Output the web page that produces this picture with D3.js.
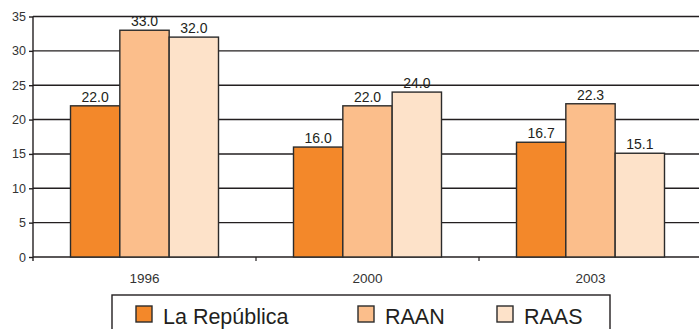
<!DOCTYPE html>
<html>
<head>
<meta charset="utf-8">
<script src="https://cdn.jsdelivr.net/npm/d3@7"></script>
<style>
  html, body { margin: 0; padding: 0; background: #fff; }
  svg { display: block; font-family: "Liberation Sans", Arial, sans-serif; }
</style>
</head>
<body>
<svg id="chart" width="699" height="329"></svg>
<script>
// Years on the category axis
const years = ["1996", "2000", "2003"];
// Series names and their values per year
const seriesNames = ["La República", "RAAN", "RAAS"];
const republica = [22.0, 16.0, 16.7];
const raan = [33.0, 22.0, 22.3];
const raas = [32.0, 24.0, 15.1];
const seriesColors = ["#F3882A", "#FBBE8B", "#FDE2C9"];
const yTicks = [0, 5, 10, 15, 20, 25, 30, 35];

const seriesValues = [republica, raan, raas];

const svg = d3.select("#chart");
const plotLeft = 33, plotTop = 16.5, plotBottom = 257;
const bandWidth = 223;
const plotRight = plotLeft + bandWidth * years.length;

const x = d3.scaleBand().domain(years).range([plotLeft, plotRight]).paddingInner(0).paddingOuter(0);
const y = d3.scaleLinear().domain([0, 35]).range([plotBottom, plotTop]);
const groupW = 148;
const xs = d3.scaleBand().domain(seriesNames).range([0, groupW]).padding(0);

// horizontal grid lines
svg.append("g")
  .selectAll("line")
  .data(yTicks)
  .join("line")
  .attr("x1", plotLeft).attr("x2", plotRight)
  .attr("y1", d => y(d)).attr("y2", d => y(d))
  .attr("stroke", "#231f20").attr("stroke-width", 1.4);

// y axis
const yAxis = d3.axisLeft(y).tickValues(yTicks).tickSize(4).tickPadding(3).tickFormat(d3.format("d"));
const gy = svg.append("g").attr("transform", `translate(${plotLeft},0)`).call(yAxis);
gy.select(".domain").remove();
gy.selectAll(".tick line").attr("stroke", "#231f20").attr("stroke-width", 1.4);
gy.selectAll(".tick text").attr("fill", "#333").style("font-size", "12.5px");
svg.append("line")
  .attr("x1", plotLeft).attr("x2", plotLeft)
  .attr("y1", plotTop).attr("y2", plotBottom + 4)
  .attr("stroke", "#231f20").attr("stroke-width", 1.4);

// x axis: ticks at band boundaries, labels at band centers
const bounds = years.map(d => x(d)).slice(1);
svg.append("g").selectAll("line")
  .data(bounds).join("line")
  .attr("x1", d => d).attr("x2", d => d)
  .attr("y1", plotBottom).attr("y2", plotBottom + 4)
  .attr("stroke", "#231f20").attr("stroke-width", 1.2);
svg.append("g").selectAll("text")
  .data(years).join("text")
  .attr("x", d => x(d) + x.bandwidth() / 2)
  .attr("y", 283)
  .attr("text-anchor", "middle")
  .attr("fill", "#333")
  .style("font-size", "13.5px")
  .text(d => d);

// bars
const groups = svg.append("g").selectAll("g")
  .data(years).join("g")
  .attr("transform", d => `translate(${x(d) + (x.bandwidth() - groupW) / 2},0)`);

groups.each(function (yr, i) {
  const g = d3.select(this);
  const rows = seriesNames.map((s, k) => ({ s, k, v: seriesValues[k][i] }));
  g.selectAll("rect").data(rows).join("rect")
    .attr("x", d => xs(d.s))
    .attr("y", d => y(d.v))
    .attr("width", xs.bandwidth())
    .attr("height", d => plotBottom - y(d.v))
    .attr("fill", d => seriesColors[d.k])
    .attr("stroke", "#2b2b2b").attr("stroke-width", 1.4);
  g.selectAll("text").data(rows).join("text")
    .attr("x", d => xs(d.s) + xs.bandwidth() / 2)
    .attr("y", d => y(d.v) - 4)
    .attr("text-anchor", "middle")
    .attr("fill", "#231f20")
    .style("font-size", "14px")
    .text(d => d.v.toFixed(1));
});

// legend box
const legend = svg.append("g");
legend.append("rect")
  .attr("x", 112).attr("y", 295).attr("width", 498).attr("height", 50)
  .attr("fill", "#fff").attr("stroke", "#231f20").attr("stroke-width", 1.4);
const legendX = [136, 358, 497];
const items = legend.selectAll("g").data(seriesNames).join("g")
  .attr("transform", (d, i) => `translate(${legendX[i]},306)`);
items.append("rect")
  .attr("x", 0).attr("y", 0).attr("width", 16).attr("height", 16)
  .attr("fill", (d, i) => seriesColors[i])
  .attr("stroke", "#2b2b2b").attr("stroke-width", 1.4);
items.append("text")
  .attr("x", 27).attr("y", 18)
  .attr("fill", "#231f20")
  .style("font-size", "21.5px")
  .text(d => d);
</script>
</body>
</html>
